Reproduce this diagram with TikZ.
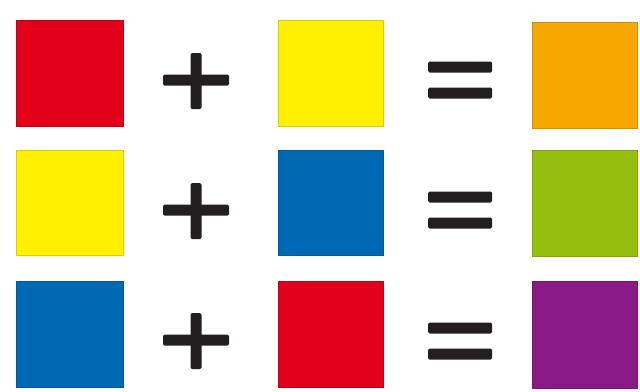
\documentclass[tikz,border=0pt]{standalone}
\begin{document}
\begin{tikzpicture}[x=1pt,y=-1pt,
  sq/.style={draw=#1!85!black, line width=0.8pt, fill=#1},
  sym/.style={fill=symk, rounded corners=1.5pt}]
\definecolor{cred}{HTML}{E2001A}
\definecolor{cyel}{HTML}{FFF000}
\definecolor{cblue}{HTML}{0069B4}
\definecolor{corg}{HTML}{F7A800}
\definecolor{cgrn}{HTML}{95BE0E}
\definecolor{cpur}{HTML}{8B1A89}
\definecolor{symk}{HTML}{231F20}
\useasboundingbox (0,0) rectangle (640,391);
% row 1
\path[sq=cred]  (16,20) rectangle (123,126);
\path[sq=cyel]  (278,20) rectangle (383,126);
\path[sq=corg]  (532,22) rectangle (637,128);
% row 2
\path[sq=cyel]  (16,150) rectangle (123,255);
\path[sq=cblue] (278,150) rectangle (383,255);
\path[sq=cgrn]  (532,150) rectangle (637,256);
% row 3
\path[sq=cblue] (16,281) rectangle (123,387);
\path[sq=cred]  (278,281) rectangle (383,387);
\path[sq=cpur]  (532,281) rectangle (637,388);
% plus signs
\foreach \c in {80,210,340}{
  \path[sym] (163,\c-5.5) rectangle (229,\c+5.5);
  \path[sym] (190.5,\c-27) rectangle (201.5,\c+29);
}
% equals signs
\foreach \c in {80,210,341}{
  \path[sym] (428,\c-18.5) rectangle (492,\c-7.5);
  \path[sym] (428,\c+7.5) rectangle (492,\c+18.5);
}
\end{tikzpicture}
\end{document}
